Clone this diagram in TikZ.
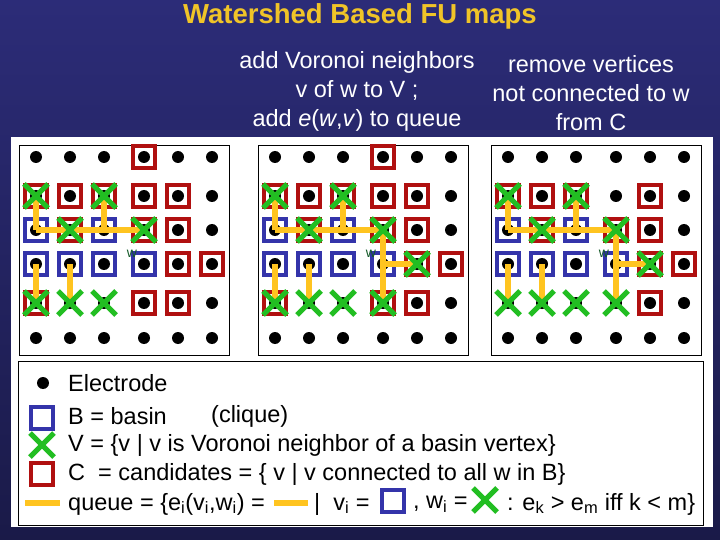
\documentclass[tikz,border=0pt]{standalone}
\usepackage{fontspec}
\setmainfont{Liberation Sans}
\usetikzlibrary{calc}
\definecolor{bgtop}{RGB}{44,44,120}
\definecolor{bgbot}{RGB}{26,26,72}
\definecolor{ttl}{RGB}{240,196,40}
\definecolor{bsq}{RGB}{52,52,170}
\definecolor{rsq}{RGB}{176,16,16}
\definecolor{gx}{RGB}{34,190,34}
\definecolor{yl}{RGB}{255,196,32}
\definecolor{wg}{RGB}{20,90,40}
\tikzset{
  dotm/.style={fill=black,circle,inner sep=0pt,minimum size=12pt},
  rbox/.style={draw=rsq,line width=3.5pt,minimum size=22pt,inner sep=0pt},
  bbox/.style={draw=bsq,line width=3.5pt,minimum size=22pt,inner sep=0pt},
  yline/.style={draw=yl,line width=5.5pt},
  xline/.style={draw=gx,line width=5pt},
  hdr/.style={text=white,font=\fontsize{23.5}{29}\selectfont,align=center},
  leg/.style={anchor=west,font=\fontsize{23.5}{26}\selectfont,inner sep=0pt},
  panelbox/.style={draw=black,line width=0.8pt}
}
\newcommand{\xmark}[1]{\draw[xline] ($(#1)+(-12,-12)$) -- ($(#1)+(12,12)$); \draw[xline] ($(#1)+(-12,12)$) -- ($(#1)+(12,-12)$);}
\newcommand{\pnl}[4]{%
\begin{scope}[shift={(#1,0)}]
  \draw[panelbox] (0,145) rectangle (210,355);
  \foreach \c/\xx in {1/17,2/51,3/85,4/125,5/159,6/193}
    \foreach \r/\yy in {1/157,2/196,3/230,4/264,5/303,6/338}
      {\coordinate (p\c\r) at (\xx,\yy); \node[dotm] at (p\c\r) {};}
  \foreach \a in {#2} \node[rbox] at (p\a) {};
  \foreach \a in {13,33,14,24,34,44} \node[bbox] at (p\a) {};
  \foreach \a/\b in {#4} \draw[yline] (p\a) -- (p\b);
  \foreach \a in {#3} {\xmark{p\a}}
  \node[text=wg,font=\fontsize{14}{14}\selectfont,inner sep=0pt] at ($(p44)+(-12,-10)$) {w};
\end{scope}}
\begin{document}
\begin{tikzpicture}[x=1pt,y=-1pt]
\shade[top color=bgtop,bottom color=bgbot] (0,0) rectangle (720,540);
\useasboundingbox (0,0) rectangle (720,540);
\fill[white] (11,137) rectangle (713,527);
\node[text=ttl,font=\bfseries\fontsize{27.5}{28}\selectfont] (title) at (360,16) {Watershed Based FU maps};
\node[hdr] (h1) at (357,91) {add Voronoi neighbors\\v of w to V ;\\add \textit{e}(\textit{w},\textit{v}) to queue};
\node[hdr] (h2) at (591,93) {remove vertices\\not connected to w\\from C};
\pnl{19}{41,12,22,32,42,52,23,43,53,54,64,15,45,55}{12,32,23,43,15,25,35}{13/12,13/43,33/32,24/25,14/15}
\pnl{258}{41,12,22,32,42,52,23,43,53,54,64,15,45,55}{12,32,23,43,15,25,35,54,45}{13/12,13/43,33/32,24/25,14/15,44/43,44/54,44/45}
\pnl{491}{12,22,32,23,43,52,53,54,64,55}{12,32,23,43,15,25,35,54,45}{13/12,13/43,33/32,24/25,14/15,44/43,44/54,44/45}
\draw[panelbox] (18,361) rectangle (703,525);
\node[dotm] (ld) at (43,383) {};
\node[bbox] (lb) at (42,418) {};
\coordinate (lx) at (42,445); \xmark{lx}
\node[rbox] (lr) at (42,474) {};
\coordinate (ly1) at (25,503); \coordinate (ly2) at (60,503);
\draw[yline] (ly1) -- (ly2);
\node[leg] (t1) at (68,383) {Electrode};
\node[leg] (t2) at (68,416) {B = basin};
\node[leg] (t2b) at (211,416) {(clique)};
\node[leg] (t3) at (68,445) {V = \{v | v is Voronoi neighbor of a basin vertex\}};
\node[leg] (t4) at (68,474) {C\ \ = candidates = \{ v | v connected to all w in B\}};
\node[leg] (q1) at (68,504) {queue = \{e\textsubscript{i}(v\textsubscript{i},w\textsubscript{i}) =};
\node[leg] (q2) at (314,504) {|\ \ v\textsubscript{i} =};
\node[leg] (q3) at (413,504) {, w\textsubscript{i} =};
\node[leg] (q4) at (507,504) {: e\textsubscript{k} > e\textsubscript{m} iff k < m\}};
\coordinate (qy1) at (274,503); \coordinate (qy2) at (308,503);
\draw[yline] (qy1) -- (qy2);
\node[bbox] (qb) at (393,501) {};
\coordinate (qx) at (485,500); \xmark{qx}
\end{tikzpicture}
\end{document}
